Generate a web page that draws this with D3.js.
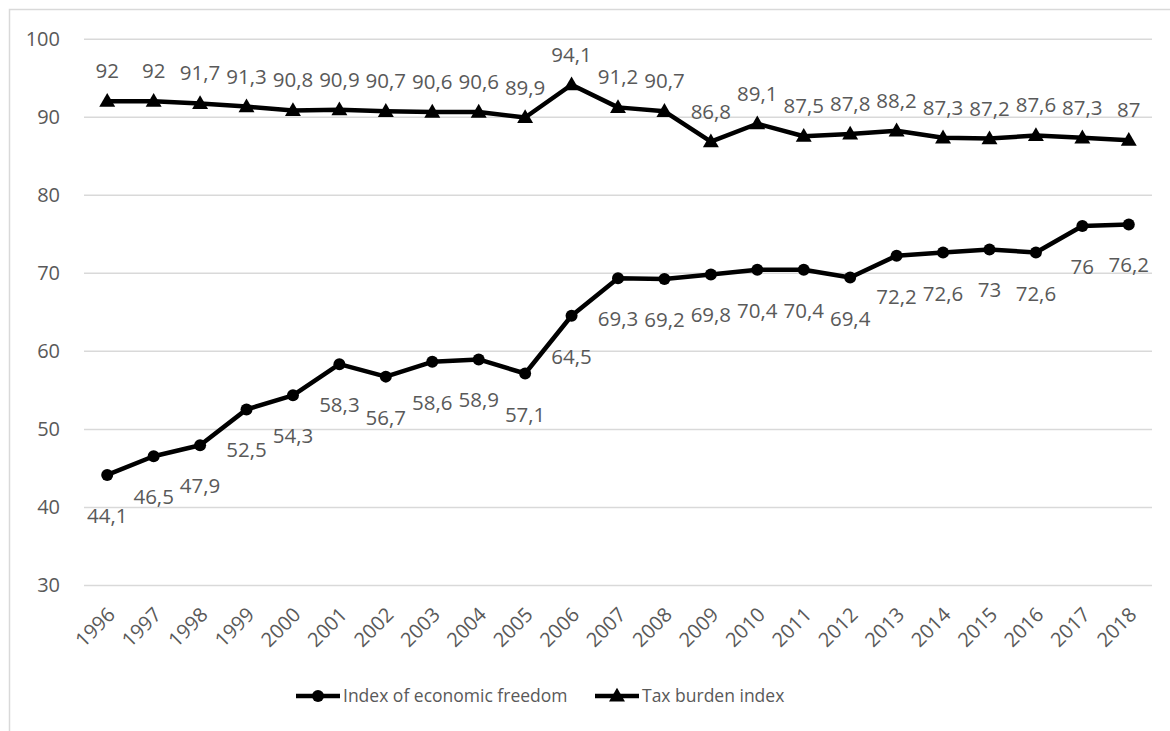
<!DOCTYPE html>
<html>
<head>
<meta charset="utf-8">
<script src="https://cdn.jsdelivr.net/npm/d3@7"></script>
<style>
  body { margin: 0; background: #fff; }
  svg { display: block; font-family: 'Open Sans', sans-serif; }
</style>
</head>
<body>
<div id="chart"></div>
<script>
const years = ['1996', '1997', '1998', '1999', '2000', '2001', '2002', '2003', '2004', '2005', '2006',
  '2007', '2008', '2009', '2010', '2011', '2012', '2013', '2014', '2015', '2016', '2017', '2018'];
const freedom = [44.1, 46.5, 47.9, 52.5, 54.3, 58.3, 56.7, 58.6, 58.9, 57.1, 64.5,
  69.3, 69.2, 69.8, 70.4, 70.4, 69.4, 72.2, 72.6, 73, 72.6, 76, 76.2];
const taxBurden = [92, 92, 91.7, 91.3, 90.8, 90.9, 90.7, 90.6, 90.6, 89.9, 94.1,
  91.2, 90.7, 86.8, 89.1, 87.5, 87.8, 88.2, 87.3, 87.2, 87.6, 87.3, 87];
const yTicks = [30, 40, 50, 60, 70, 80, 90, 100];
const seriesNames = ['Index of economic freedom', 'Tax burden index'];

const width = 1170, height = 731;
const margin = { left: 84, right: 18, top: 38.7, bottom: 146 };
const textColor = '#595959';

const svg = d3.select('#chart')
  .append('svg')
  .attr('width', width)
  .attr('height', height);

// outer frame (cut off at right and bottom like the source)
svg.append('rect')
  .attr('x', 9.5).attr('y', 9.5)
  .attr('width', 1300).attr('height', 900)
  .attr('fill', 'none')
  .attr('stroke', '#d9d9d9')
  .attr('stroke-width', 1.5);

const x = d3.scaleBand()
  .domain(years)
  .range([margin.left, width - margin.right]);

const y = d3.scaleLinear()
  .domain([30, 100])
  .range([height - margin.bottom, margin.top]);

const cx = d => x(d) + x.bandwidth() / 2;

// gridlines + y labels
const yAxis = d3.axisLeft(y)
  .tickValues(yTicks)
  .tickSize(-(width - margin.left - margin.right))
  .tickPadding(24)
  .tickFormat(d3.format('d'));

const gy = svg.append('g')
  .attr('transform', `translate(${margin.left},0)`)
  .call(yAxis);
gy.select('.domain').remove();
gy.selectAll('.tick line').attr('stroke', '#d9d9d9').attr('stroke-width', 1.5);
gy.selectAll('.tick text')
  .attr('fill', textColor)
  .attr('font-size', 20)
  .attr('font-family', 'Open Sans');

// x labels, rotated
const xAxis = d3.axisBottom(x).tickSize(0).tickPadding(0);
const gx = svg.append('g')
  .attr('transform', `translate(0,${y(30)})`)
  .call(xAxis);
gx.select('.domain').remove();
gx.selectAll('.tick text')
  .attr('fill', textColor)
  .attr('font-size', 20)
  .attr('font-family', 'Open Sans')
  .attr('text-anchor', 'end')
  .attr('dy', null)
  .attr('y', null)
  .attr('transform', 'translate(9,31) rotate(-45)');

const line = d3.line()
  .x((d, i) => cx(years[i]))
  .y(d => y(d));

const triangle = d3.symbol().type(d3.symbolTriangle).size(110);

// tax burden series
svg.append('path')
  .datum(taxBurden)
  .attr('d', line)
  .attr('fill', 'none')
  .attr('stroke', '#000')
  .attr('stroke-width', 4.5)
  .attr('stroke-linejoin', 'round');

svg.selectAll('.tri')
  .data(taxBurden)
  .enter().append('path')
  .attr('class', 'tri')
  .attr('transform', (d, i) => `translate(${cx(years[i])},${y(d) + 1})`)
  .attr('d', triangle)
  .attr('fill', '#000');

const fmt = v => String(v).replace('.', ',');

svg.selectAll('.taxLabel')
  .data(taxBurden)
  .enter().append('text')
  .attr('class', 'taxLabel')
  .attr('x', (d, i) => cx(years[i]))
  .attr('y', d => y(d) - 23)
  .attr('text-anchor', 'middle')
  .attr('fill', textColor)
  .attr('font-size', 20.5)
  .text(fmt);

// economic freedom series
svg.append('path')
  .datum(freedom)
  .attr('d', line)
  .attr('fill', 'none')
  .attr('stroke', '#000')
  .attr('stroke-width', 4.5)
  .attr('stroke-linejoin', 'round');

svg.selectAll('.dot')
  .data(freedom)
  .enter().append('circle')
  .attr('class', 'dot')
  .attr('cx', (d, i) => cx(years[i]))
  .attr('cy', d => y(d))
  .attr('r', 6)
  .attr('fill', '#000');

svg.selectAll('.freeLabel')
  .data(freedom)
  .enter().append('text')
  .attr('class', 'freeLabel')
  .attr('x', (d, i) => cx(years[i]))
  .attr('y', d => y(d) + 48)
  .attr('text-anchor', 'middle')
  .attr('fill', textColor)
  .attr('font-size', 20.5)
  .text(fmt);

// legend
const legendY = 696;
const legend = svg.append('g');
const items = [
  { name: seriesNames[0], x0: 296, marker: 'circle' },
  { name: seriesNames[1], x0: 595, marker: 'triangle' }
];
items.forEach(it => {
  legend.append('line')
    .attr('x1', it.x0).attr('x2', it.x0 + 44)
    .attr('y1', legendY).attr('y2', legendY)
    .attr('stroke', '#000').attr('stroke-width', 4.5);
  if (it.marker === 'circle') {
    legend.append('circle')
      .attr('cx', it.x0 + 22).attr('cy', legendY).attr('r', 6).attr('fill', '#000');
  } else {
    legend.append('path')
      .attr('transform', `translate(${it.x0 + 22},${legendY + 1})`)
      .attr('d', triangle).attr('fill', '#000');
  }
  legend.append('text')
    .attr('x', it.x0 + 47)
    .attr('y', legendY)
    .attr('dy', '0.35em')
    .attr('fill', textColor)
    .attr('font-size', 17.5)
    .text(it.name);
});
</script>
</body>
</html>
